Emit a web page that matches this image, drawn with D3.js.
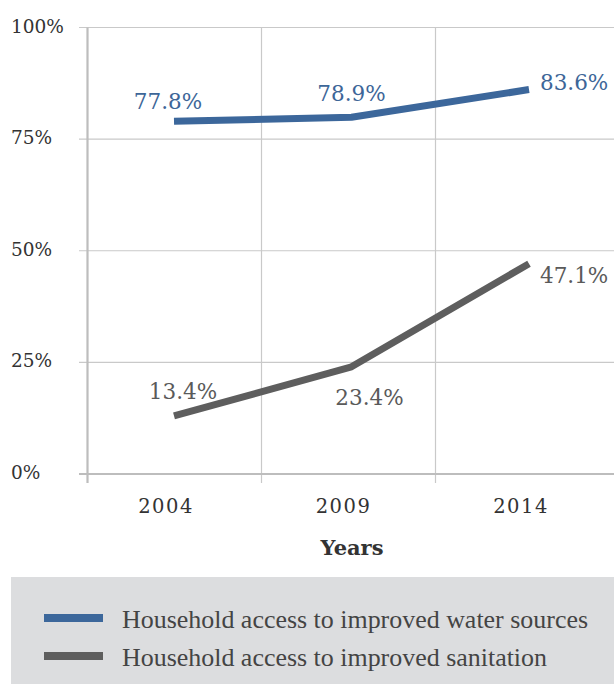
<!DOCTYPE html>
<html><head><meta charset="utf-8">
<script src="https://cdn.jsdelivr.net/npm/d3@7"></script>
<style>html,body{margin:0;padding:0;background:#fff;}svg{display:block;}</style>
</head><body>
<svg id="c" width="614" height="684"></svg>
<script>
const years = ["2004", "2009", "2014"];
const waterValues = [79.0, 79.9, 86.1];
const sanitationValues = [13.0, 24.0, 47.1];
const waterLabels = ["77.8%", "78.9%", "83.6%"];
const sanitationLabels = ["13.4%", "23.4%", "47.1%"];
const yTicks = [0, 25, 50, 75, 100];
const seriesNames = ["Household access to improved water sources", "Household access to improved sanitation"];
const seriesColors = ["#3c679b", "#5e5e5e"];
const labelColors = ["#3d6698", "#5a5a5a"];

const svg = d3.select("#c");
const serif = "'DejaVu Serif', serif";
const legendFont = "'Liberation Serif', serif";

function fit(sel, target) {
  const base = parseFloat(sel.attr("font-size"));
  const w = sel.node().getComputedTextLength();
  sel.attr("font-size", (base * target / w).toFixed(2));
}

const y = d3.scaleLinear().domain([0, 100]).range([474, 27.5]);
const xBand = d3.scaleBand().domain(years).range([87.5, 87.5 + 3 * 174]);
const x = d3.scalePoint().domain(years).range([174, 529]);

// horizontal gridlines
svg.append("g").selectAll("line").data(yTicks.filter(d => d > 0)).join("line")
  .attr("x1", 79).attr("x2", 614).attr("y1", d => y(d)).attr("y2", d => y(d))
  .attr("stroke", "#c9c9c9").attr("stroke-width", 1.2);
// vertical gridlines
svg.append("g").selectAll("line").data(years.slice(1)).join("line")
  .attr("x1", d => xBand(d)).attr("x2", d => xBand(d))
  .attr("y1", y(100)).attr("y2", 483)
  .attr("stroke", "#c9c9c9").attr("stroke-width", 1.2);
// axes
svg.append("line").attr("x1", 87.5).attr("x2", 87.5).attr("y1", y(100)).attr("y2", 483)
  .attr("stroke", "#bdbdbd").attr("stroke-width", 2.2);
svg.append("line").attr("x1", 79).attr("x2", 614).attr("y1", y(0)).attr("y2", y(0))
  .attr("stroke", "#bdbdbd").attr("stroke-width", 2.2);

// y tick labels
svg.append("g").selectAll("text").data(yTicks).join("text")
  .attr("x", 11).attr("y", d => y(d) + 5)
  .attr("font-family", serif).attr("font-size", 18.5).attr("fill", "#333")
  .text(d => d + "%");

// x tick labels
svg.append("g").selectAll("text").data(years).join("text")
  .attr("x", d => x(d) - 8).attr("y", 513)
  .attr("text-anchor", "middle")
  .attr("font-family", serif).attr("font-size", 19.5).attr("fill", "#333")
  .attr("letter-spacing", 1.5)
  .text(d => d);

svg.append("text").attr("x", 352).attr("y", 555).attr("text-anchor", "middle")
  .attr("font-family", serif).attr("font-size", 21).attr("font-weight", "bold")
  .attr("fill", "#333").text("Years");

// lines
const line = d3.line().x((d, i) => x(years[i])).y(d => y(d));
[waterValues, sanitationValues].forEach((vals, k) => {
  svg.append("path").datum(vals).attr("d", line)
    .attr("fill", "none").attr("stroke", seriesColors[k]).attr("stroke-width", 7)
    .attr("stroke-linejoin", "round").attr("stroke-linecap", "butt");
});

// data labels
const labelPos = [
  [ {dx: -6, dy: -12, a: "middle"}, {dx: 0, dy: -16, a: "middle"}, {dx: 11, dy: 0, a: "start"} ],
  [ {dx: 9, dy: -17, a: "middle"}, {dx: 18, dy: 38, a: "middle"}, {dx: 11, dy: 19, a: "start"} ]
];
[[waterValues, waterLabels], [sanitationValues, sanitationLabels]].forEach(([vals, labs], k) => {
  svg.append("g").selectAll("text").data(labs).join("text")
    .attr("x", (d, i) => x(years[i]) + labelPos[k][i].dx)
    .attr("y", (d, i) => y(vals[i]) + labelPos[k][i].dy)
    .attr("text-anchor", (d, i) => labelPos[k][i].a)
    .attr("font-family", serif).attr("font-size", 21.5).attr("fill", labelColors[k])
    .text(d => d);
});

// legend
svg.append("rect").attr("x", 11).attr("y", 577).attr("width", 603).attr("height", 107)
  .attr("fill", "#dcdddf");
seriesNames.forEach((name, k) => {
  const cy = 618 + k * 38;
  svg.append("line").attr("x1", 44).attr("x2", 103).attr("y1", cy).attr("y2", cy)
    .attr("stroke", seriesColors[k]).attr("stroke-width", 8);
  const t = svg.append("text").attr("x", 122).attr("y", cy + 10)
    .attr("font-family", legendFont).attr("font-size", 22).attr("fill", "#444")
    .text(name);
  if (k === 0) fit(t, 466);
});
const fs0 = svg.selectAll("text").filter(function(){return d3.select(this).text() === seriesNames[0];}).attr("font-size");
svg.selectAll("text").filter(function(){return d3.select(this).text() === seriesNames[1];}).attr("font-size", fs0);
</script>
</body></html>
